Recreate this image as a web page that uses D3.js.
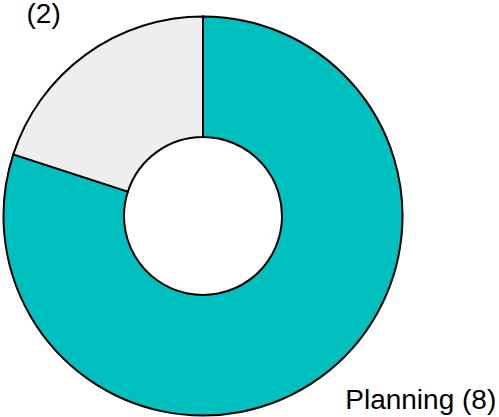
<!DOCTYPE html>
<html>
<head>
<meta charset="utf-8">
<script src="https://cdn.jsdelivr.net/npm/d3@7"></script>
<style>
  html, body { margin: 0; padding: 0; background: #fff; }
  svg { display: block; }
</style>
</head>
<body>
<svg id="chart" width="499" height="417"></svg>
<script>
const categories = ["Planning", ""];
const values = [8, 2];
const colors = ["#00BFBF", "#EEEEEE"];

const width = 499, height = 417;
const cx = 203, cy = 216;
const outerR = 199.5, innerR = 79;

const data = categories.map((c, i) => ({ name: c, value: values[i], color: colors[i] }));

const svg = d3.select("#chart");
const g = svg.append("g").attr("transform", `translate(${cx},${cy})`);

const pie = d3.pie().value(d => d.value).sort(null);
const arc = d3.arc().innerRadius(innerR).outerRadius(outerR);
const arcs = pie(data);

g.selectAll("path.slice")
  .data(arcs)
  .join("path")
  .attr("class", "slice")
  .attr("d", arc)
  .attr("fill", d => d.data.color)
  .attr("stroke", "#000")
  .attr("stroke-width", 2)
  .attr("stroke-linejoin", "miter");

const labelR = 241;
g.selectAll("text.label")
  .data(arcs)
  .join("text")
  .attr("class", "label")
  .attr("x", d => {
    const a = (d.startAngle + d.endAngle) / 2;
    return Math.sin(a) * (labelR + 1);
  })
  .attr("y", d => {
    const a = (d.startAngle + d.endAngle) / 2;
    return -Math.cos(a) * (labelR - 3);
  })
  .attr("text-anchor", d => {
    const a = (d.startAngle + d.endAngle) / 2;
    return Math.sin(a) >= 0 ? "start" : "end";
  })
  .attr("font-family", "'Liberation Sans', Arial, sans-serif")
  .attr("font-size", 28)
  .attr("fill", "#000")
  .text(d => (d.data.name ? d.data.name + " " : "") + "(" + d.data.value + ")");
</script>
</body>
</html>
